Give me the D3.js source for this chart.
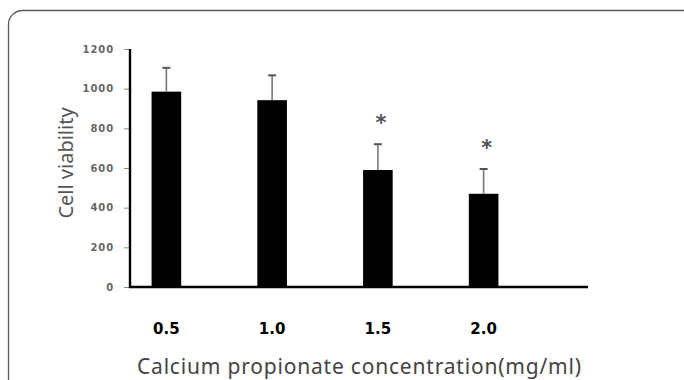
<!DOCTYPE html>
<html>
<head>
<meta charset="utf-8">
<script src="https://cdn.jsdelivr.net/npm/d3@7"></script>
<style>
  html, body { margin: 0; padding: 0; background: #fff; }
  svg { display: block; }
</style>
</head>
<body>
<svg id="chart" width="684" height="380"></svg>
<script>
// ---- data ----
const categories = ["0.5", "1.0", "1.5", "2.0"];
const means = [985, 942, 590, 470];
const errors = [120, 125, 130, 125];
const significant = [false, false, true, true];
const yTicks = [0, 200, 400, 600, 800, 1000, 1200];
const xTitle = "Calcium propionate concentration(mg/ml)";
const yTitle = "Cell viability";

// ---- layout ----
const axisLeft = 130, axisRight = 588;
const svg = d3.select("#chart");

// frame
svg.append("rect")
  .attr("x", 8.5).attr("y", 10.5)
  .attr("width", 690).attr("height", 400)
  .attr("rx", 14).attr("ry", 14)
  .attr("fill", "#fff")
  .attr("stroke", "#5a5a5a").attr("stroke-width", 1.3);

const y = d3.scaleLinear().domain([0, 1200]).range([287, 49]);
const x = d3.scaleBand().domain(categories)
  .range([113.5, 536.5]).paddingInner(0.72).paddingOuter(0.36);

const data = categories.map((c, i) => ({ c, v: means[i], e: errors[i], s: significant[i] }));

// y axis
const yAxis = d3.axisLeft(y).tickValues(yTicks).tickSize(6).tickPadding(10).tickFormat(d3.format("d"));
const gy = svg.append("g").attr("transform", `translate(${axisLeft},0)`).call(yAxis);
gy.select(".domain").remove();
gy.selectAll(".tick line").attr("stroke", "#888").attr("stroke-width", 1);
gy.selectAll(".tick text")
  .attr("fill", "#666")
  .style("font-family", "DejaVu Sans, sans-serif")
  .style("font-size", "10px")
  .style("font-weight", "bold")
  .style("letter-spacing", "0.9px");
svg.append("line")
  .attr("x1", axisLeft).attr("x2", axisLeft)
  .attr("y1", y(1200)).attr("y2", y(0) + 1)
  .attr("stroke", "#000").attr("stroke-width", 2.4);

// bars
svg.append("g").selectAll("rect").data(data).join("rect")
  .attr("x", d => x(d.c))
  .attr("width", x.bandwidth())
  .attr("y", d => y(d.v))
  .attr("height", d => y(0) - y(d.v))
  .attr("fill", "#000");

// error bars
const eb = svg.append("g").selectAll("g").data(data).join("g");
eb.append("line")
  .attr("x1", d => x(d.c) + x.bandwidth() / 2)
  .attr("x2", d => x(d.c) + x.bandwidth() / 2)
  .attr("y1", d => y(d.v))
  .attr("y2", d => y(d.v + d.e))
  .attr("stroke", "#777").attr("stroke-width", 1.6);
eb.append("line")
  .attr("x1", d => x(d.c) + x.bandwidth() / 2 - 4)
  .attr("x2", d => x(d.c) + x.bandwidth() / 2 + 4)
  .attr("y1", d => y(d.v + d.e))
  .attr("y2", d => y(d.v + d.e))
  .attr("stroke", "#555").attr("stroke-width", 2);

// significance stars
svg.append("g").selectAll("text").data(data.filter(d => d.s)).join("text")
  .attr("x", d => x(d.c) + x.bandwidth() / 2 + 3)
  .attr("y", d => y(d.v + d.e) - 14)
  .attr("text-anchor", "middle")
  .attr("fill", "#555")
  .style("font-family", "DejaVu Sans, sans-serif")
  .style("font-size", "21px")
  .style("font-weight", "bold")
  .text("*");

// x axis line
svg.append("line")
  .attr("x1", axisLeft - 1).attr("x2", axisRight)
  .attr("y1", y(0)).attr("y2", y(0))
  .attr("stroke", "#000").attr("stroke-width", 2.6);

// x tick labels
const xAxis = d3.axisBottom(x).tickSize(0).tickPadding(0);
const gx = svg.append("g").attr("transform", `translate(0,${y(0) + 47})`).call(xAxis);
gx.select(".domain").remove();
gx.selectAll(".tick text")
  .attr("fill", "#000")
  .attr("dy", 0)
  .style("font-family", "DejaVu Sans, sans-serif")
  .style("font-size", "15px")
  .style("font-weight", "bold");

// axis titles
svg.append("text")
  .attr("x", 359).attr("y", 374)
  .attr("text-anchor", "middle")
  .attr("fill", "#444")
  .attr("textLength", 444)
  .attr("lengthAdjust", "spacing")
  .style("font-family", "Noto Sans, sans-serif")
  .style("font-size", "21px")
  .text(xTitle);

svg.append("text")
  .attr("transform", "translate(73,163) rotate(-90)")
  .attr("text-anchor", "middle")
  .attr("fill", "#555")
  .style("font-family", "Noto Sans, sans-serif")
  .style("font-size", "20px")
  .text(yTitle);
</script>
</body>
</html>
